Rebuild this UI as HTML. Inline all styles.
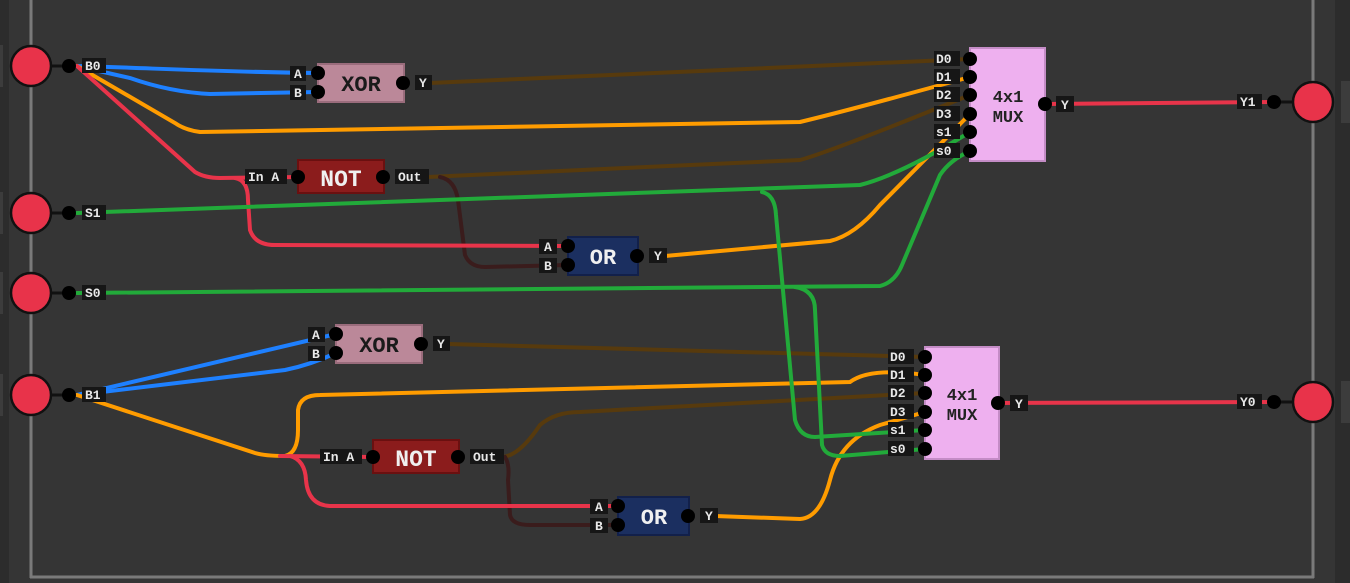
<!DOCTYPE html>
<html><head><style>
body{margin:0;background:#353535;width:1350px;height:583px;overflow:hidden}
svg{display:block}
text{font-family:"Liberation Mono",monospace;font-weight:bold}
</style></head><body>
<svg width="1350" height="583" viewBox="0 0 1350 583">
<rect width="1350" height="583" fill="#353535"/>
<rect x="0" y="0" width="9" height="583" fill="#2c2c2c"/>
<rect x="1335" y="0" width="15" height="583" fill="#2c2c2c"/>
<rect x="0" y="45" width="3" height="42" fill="#3c3c3c"/>
<rect x="0" y="192" width="3" height="42" fill="#3c3c3c"/>
<rect x="0" y="272" width="3" height="42" fill="#3c3c3c"/>
<rect x="0" y="374" width="3" height="42" fill="#3c3c3c"/>
<rect x="1341" y="81" width="9" height="42" fill="#3c3c3c"/>
<rect x="1341" y="381" width="9" height="42" fill="#3c3c3c"/>
<line x1="31" y1="0" x2="31" y2="578" stroke="#7a7a7a" stroke-width="3"/>
<line x1="1313" y1="0" x2="1313" y2="578" stroke="#7a7a7a" stroke-width="3"/>
<line x1="30" y1="577" x2="1314" y2="577" stroke="#7a7a7a" stroke-width="3"/>
<g fill="none" stroke-width="4" stroke-linecap="round">
<!-- brown -->
<path d="M430,83 L970,59" stroke="#573a0d"/>
<path d="M428,177 L800,160 Q830,152 970,95" stroke="#573a0d"/>
<path d="M448,344 L925,357" stroke="#573a0d"/>
<path d="M503,457 Q520,455 540,425 Q555,412 580,412 L925,393" stroke="#573a0d"/>
<path d="M440,177 Q455,180 458,200 L465,255 Q470,267 485,267 L568,265" stroke="#3a1c1c"/>
<path d="M505,457 Q510,465 508,480 L510,515 Q512,525 530,525 L618,525" stroke="#3a1c1c"/>
<!-- blue -->
<path d="M77,66 C150,68 220,72 318,73" stroke="#1e80ff"/>
<path d="M77,66 L130,78 Q170,92 210,94 L318,92" stroke="#1e80ff"/>
<path d="M77,395 L336,334" stroke="#1e80ff"/>
<path d="M77,395 L285,370 Q310,365 336,353" stroke="#1e80ff"/>
<!-- orange -->
<path d="M77,66 L175,123 Q185,130 200,132 L800,122 Q850,110 970,77" stroke="#ff9c00"/>
<path d="M665,256 L830,241 Q855,235 880,205 L970,114" stroke="#ff9c00"/>
<path d="M77,395 L255,453 Q265,456 285,456 Q298,453 298,430 L298,410 Q300,395 320,395 L850,382 Q870,367 925,375" stroke="#ff9c00"/>
<path d="M715,516 L800,519 Q820,518 830,480 Q840,440 880,425 L925,412" stroke="#ff9c00"/>
<!-- red -->
<path d="M77,66 L195,172 Q205,178 220,178 L298,177" stroke="#e8344a"/>
<path d="M235,178 Q248,180 248,200 L250,230 Q255,245 275,245 L568,246" stroke="#e8344a"/>
<path d="M280,456 L373,457" stroke="#e8344a"/>
<path d="M290,456 Q305,460 306,480 Q308,505 330,506 L618,506" stroke="#e8344a"/>
<path d="M1045,104 L1274,102" stroke="#e8344a"/>
<path d="M998,403 L1274,402" stroke="#e8344a"/>
<!-- green -->
<path d="M77,213 L860,185 Q900,175 970,132" stroke="#22aa3a"/>
<path d="M762,192 Q775,195 776,215 L795,420 Q800,437 815,437 L925,430" stroke="#22aa3a"/>
<path d="M77,293 L880,286 Q895,282 902,265 L940,175 Q950,160 970,151" stroke="#22aa3a"/>
<path d="M795,287 Q815,290 815,310 L822,445 Q825,456 840,456 L925,449" stroke="#22aa3a"/>
<!-- input stubs -->
<path d="M51,66 L69,66 M51,213 L69,213 M51,293 L69,293 M51,395 L69,395 M1274,102 L1293,102 M1274,402 L1293,402" stroke="#111" stroke-width="3"/>
</g>
<!-- IO circles -->
<g fill="#e8334a" stroke="#111" stroke-width="2.5">
<circle cx="31" cy="66" r="20"/><circle cx="31" cy="213" r="20"/><circle cx="31" cy="293" r="20"/><circle cx="31" cy="395" r="20"/>
<circle cx="1313" cy="102" r="20"/><circle cx="1313" cy="402" r="20"/>
</g>
<!-- gates -->
<rect x="318" y="64" width="86" height="38" fill="#bb8899" stroke="#9a6c7c" stroke-width="2"/>
<rect x="298" y="160" width="86" height="33" fill="#8b1c1c" stroke="#6a1010" stroke-width="2"/>
<rect x="568" y="237" width="70" height="38" fill="#1b2f60" stroke="#12204a" stroke-width="2"/>
<rect x="970" y="48" width="75" height="113" fill="#eeb0ef" stroke="#c48cc6" stroke-width="2"/>
<rect x="336" y="325" width="86" height="38" fill="#bb8899" stroke="#9a6c7c" stroke-width="2"/>
<rect x="373" y="440" width="86" height="33" fill="#8b1c1c" stroke="#6a1010" stroke-width="2"/>
<rect x="618" y="497" width="71" height="38" fill="#1b2f60" stroke="#12204a" stroke-width="2"/>
<rect x="925" y="347" width="74" height="112" fill="#eeb0ef" stroke="#c48cc6" stroke-width="2"/>
<g font-size="22" text-anchor="middle">
<text x="361" y="91" fill="#1a1a1a">XOR</text>
<text x="341" y="186" fill="#f0f0f0" font-family="Liberation Sans" font-size="23">NOT</text>
<text x="603" y="264" fill="#f0f0f0" font-family="Liberation Sans">OR</text>
<text x="379" y="352" fill="#1a1a1a">XOR</text>
<text x="416" y="466" fill="#f0f0f0" font-family="Liberation Sans" font-size="23">NOT</text>
<text x="654" y="524" fill="#f0f0f0" font-family="Liberation Sans">OR</text>
</g>
<g font-size="17" text-anchor="middle" fill="#222" font-weight="normal">
<text x="1008" y="102">4x1</text><text x="1008" y="122">MUX</text>
<text x="962" y="400">4x1</text><text x="962" y="420">MUX</text>
</g>
<!-- pins -->
<g fill="#000">
<circle cx="69" cy="66" r="7"/><circle cx="69" cy="213" r="7"/><circle cx="69" cy="293" r="7"/><circle cx="69" cy="395" r="7"/>
<circle cx="1274" cy="102" r="7"/><circle cx="1274" cy="402" r="7"/>
<circle cx="318" cy="73" r="7"/><circle cx="318" cy="92" r="7"/><circle cx="403" cy="83" r="7"/>
<circle cx="298" cy="177" r="7"/><circle cx="383" cy="177" r="7"/>
<circle cx="568" cy="246" r="7"/><circle cx="568" cy="265" r="7"/><circle cx="637" cy="256" r="7"/>
<circle cx="336" cy="334" r="7"/><circle cx="336" cy="353" r="7"/><circle cx="421" cy="344" r="7"/>
<circle cx="373" cy="457" r="7"/><circle cx="458" cy="457" r="7"/>
<circle cx="618" cy="506" r="7"/><circle cx="618" cy="525" r="7"/><circle cx="688" cy="516" r="7"/>
<circle cx="970" cy="59" r="7"/><circle cx="970" cy="77" r="7"/><circle cx="970" cy="95" r="7"/><circle cx="970" cy="114" r="7"/><circle cx="970" cy="132" r="7"/><circle cx="970" cy="151" r="7"/><circle cx="1045" cy="104" r="7"/>
<circle cx="925" cy="357" r="7"/><circle cx="925" cy="375" r="7"/><circle cx="925" cy="393" r="7"/><circle cx="925" cy="412" r="7"/><circle cx="925" cy="430" r="7"/><circle cx="925" cy="449" r="7"/><circle cx="998" cy="403" r="7"/>
</g>
<!-- labels -->
<g font-size="13" fill="#e8e8e8">
<g fill="#161616">
<rect x="82" y="58" width="24" height="15"/><rect x="82" y="205" width="24" height="15"/><rect x="82" y="285" width="24" height="15"/><rect x="82" y="387" width="24" height="15"/>
<rect x="1237" y="94" width="25" height="15"/><rect x="1237" y="394" width="25" height="15"/>
<rect x="290" y="66" width="16" height="15"/><rect x="290" y="85" width="16" height="15"/><rect x="415" y="75" width="17" height="15"/>
<rect x="245" y="169" width="42" height="15"/><rect x="395" y="169" width="34" height="15"/>
<rect x="539" y="239" width="18" height="15"/><rect x="539" y="258" width="18" height="15"/><rect x="649" y="248" width="18" height="15"/>
<rect x="308" y="327" width="17" height="15"/><rect x="308" y="346" width="17" height="15"/><rect x="433" y="336" width="17" height="15"/>
<rect x="320" y="449" width="42" height="15"/><rect x="470" y="449" width="34" height="15"/>
<rect x="590" y="499" width="18" height="15"/><rect x="590" y="518" width="18" height="15"/><rect x="700" y="508" width="18" height="15"/>
<rect x="934" y="51" width="26" height="15"/><rect x="934" y="69" width="26" height="15"/><rect x="934" y="87" width="26" height="15"/><rect x="934" y="106" width="26" height="15"/><rect x="934" y="124" width="26" height="15"/><rect x="934" y="143" width="26" height="15"/>
<rect x="1056" y="96" width="18" height="16"/>
<rect x="888" y="349" width="26" height="15"/><rect x="888" y="367" width="26" height="15"/><rect x="888" y="385" width="26" height="15"/><rect x="888" y="404" width="26" height="15"/><rect x="888" y="422" width="26" height="15"/><rect x="888" y="441" width="26" height="15"/>
<rect x="1010" y="395" width="18" height="16"/>
</g>
<text x="85" y="70">B0</text><text x="85" y="217">S1</text><text x="85" y="297">S0</text><text x="85" y="399">B1</text>
<text x="1240" y="106">Y1</text><text x="1240" y="406">Y0</text>
<text x="294" y="78">A</text><text x="294" y="97">B</text><text x="419" y="87">Y</text>
<text x="248" y="181">In A</text><text x="398" y="181">Out</text>
<text x="544" y="251">A</text><text x="544" y="270">B</text><text x="654" y="260">Y</text>
<text x="312" y="339">A</text><text x="312" y="358">B</text><text x="437" y="348">Y</text>
<text x="323" y="461">In A</text><text x="473" y="461">Out</text>
<text x="595" y="511">A</text><text x="595" y="530">B</text><text x="705" y="520">Y</text>
<text x="936" y="63">D0</text><text x="936" y="81">D1</text><text x="936" y="99">D2</text><text x="936" y="118">D3</text><text x="936" y="136">s1</text><text x="936" y="155">s0</text>
<text x="1061" y="109">Y</text>
<text x="890" y="361">D0</text><text x="890" y="379">D1</text><text x="890" y="397">D2</text><text x="890" y="416">D3</text><text x="890" y="434">s1</text><text x="890" y="453">s0</text>
<text x="1015" y="408">Y</text>
</g>
</svg>
</body></html>
